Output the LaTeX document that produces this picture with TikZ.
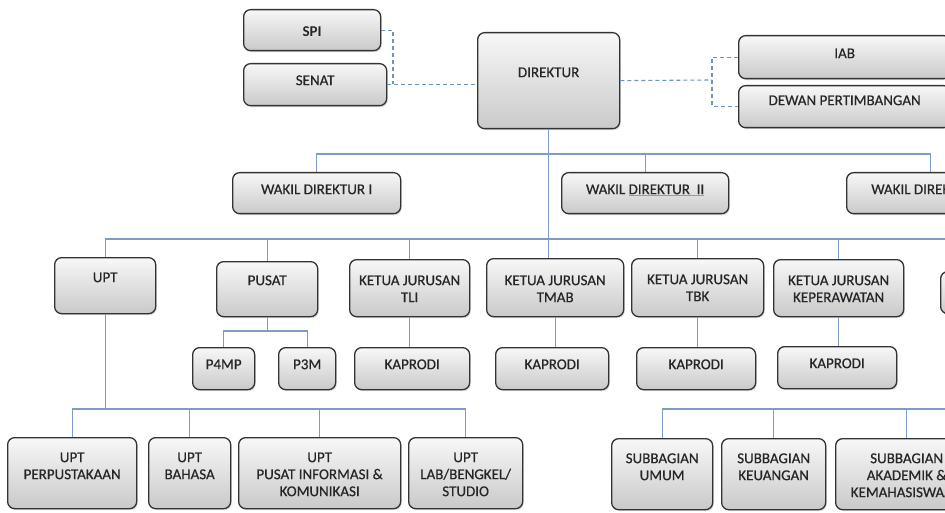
\documentclass[tikz,border=0pt]{standalone}
\usepackage{fontspec}
\setmainfont{Carlito}
\newfontfamily\boxfont{Carlito}[FakeBold=0.5]
\usetikzlibrary{shadows}
\definecolor{linkblue}{HTML}{7C9DC7}
\definecolor{dashblue}{HTML}{6E94BA}
\definecolor{spellgreen}{HTML}{7DB36B}

\begin{document}
\begin{tikzpicture}[x=1pt, y=-1pt,
  box/.style={draw=black!80, line width=1.3pt, rounded corners=7pt,
    top color=gray!6, bottom color=gray!42, anchor=north west,
    inner xsep=2pt, inner ysep=0pt, align=center, text=black!85,
    font=\boxfont\fontsize{15}{17}\selectfont,
    drop shadow={shadow xshift=1.2pt, shadow yshift=-1.5pt, opacity=0.25}},
  link/.style={draw=linkblue, line width=1.1pt},
  tieline/.style={draw=dashblue, line width=1.1pt, dash pattern=on 4pt off 3pt}]
\useasboundingbox (0,0) rectangle (945,513);
\clip (0,0) rectangle (945,513);
% top
\node[box, minimum width=137pt, text height=27pt, text depth=14pt, font=\fontsize{15}{17}\selectfont\bfseries] (spi) at (243,9) {SPI};
\node[box, minimum width=143pt, text height=21.5pt, text depth=20.5pt] (senat) at (243,63) {SENAT};
\node[box, minimum width=142pt, text height=44.5pt, text depth=51.5pt] (direktur) at (477,32) {DIREKTUR};
\node[box, minimum width=212pt, text height=22.5pt, text depth=20.5pt] (iab) at (738,35) {IAB};
\node[box, minimum width=212pt, text height=19.5pt, text depth=22.5pt] (dewan) at (738,85) {DEWAN PERTIMBANGAN};
% wakil
\node[box, minimum width=168pt, text height=21.5pt, text depth=19.5pt] (wd1) at (232,172) {WAKIL DIREKTUR I};
\node[box, minimum width=167pt, text height=21.5pt, text depth=19.5pt] (wd2) at (561,172) {WAKIL \textcolor{spellgreen}{\underline{\textcolor{black!85}{DIREKTUR\ \ II}}}};
\node[box, minimum width=168pt, text height=21.5pt, text depth=19.5pt] (wd3) at (846,172) {WAKIL DIREKTUR III};
% middle row
\node[box, minimum width=101pt, text height=24.5pt, text depth=31.5pt] (upt) at (54,257) {UPT};
\node[box, minimum width=101pt, text height=23.5pt, text depth=31.5pt] (pusat) at (216,261) {PUSAT};
\node[box, minimum width=120pt, text height=42.5pt, text depth=14.5pt] (tli) at (349,259) {KETUA JURUSAN\\TLI};
\node[box, minimum width=137pt, text height=43.5pt, text depth=14.5pt] (tmab) at (486,258) {KETUA JURUSAN\\TMAB};
\node[box, minimum width=132pt, text height=42.5pt, text depth=15.5pt] (tbk) at (631,258) {KETUA JURUSAN\\TBK};
\node[box, minimum width=130pt, text height=42.5pt, text depth=14.5pt] (kep) at (773,259) {KETUA JURUSAN\\KEPERAWATAN};
\node[box, minimum width=110pt, text height=21.5pt, text depth=20.5pt] (kjx) at (940,271) {};
\node[box, minimum width=62pt, text height=21.5pt, text depth=20.5pt] (p4mp) at (192,347) {P4MP};
\node[box, minimum width=57pt, text height=21.5pt, text depth=20.5pt] (p3m) at (278,347) {P3M};
\node[box, minimum width=115pt, text height=21.5pt, text depth=20.5pt] (kap1) at (354,347) {KAPRODI};
\node[box, minimum width=113pt, text height=21.5pt, text depth=20.5pt] (kap2) at (495,347) {KAPRODI};
\node[box, minimum width=119pt, text height=21.5pt, text depth=20.5pt] (kap3) at (636,347) {KAPRODI};
\node[box, minimum width=119pt, text height=21.5pt, text depth=20.5pt] (kap4) at (777,346) {KAPRODI};
% bottom row
\node[box, minimum width=129pt, text height=41.5pt, text depth=29.5pt] (perpus) at (7,437) {UPT\\PERPUSTAKAAN};
\node[box, minimum width=82pt, text height=41.5pt, text depth=29.5pt] (bahasa) at (148,437) {UPT\\BAHASA};
\node[box, minimum width=162pt, text height=58.5pt, text depth=12.5pt] (pusinfo) at (238,437) {UPT\\PUSAT INFORMASI \&\\KOMUNIKASI};
\node[box, minimum width=114pt, text height=58.5pt, text depth=12.5pt] (lab) at (408,437) {UPT\\LAB/BENGKEL/\\STUDIO};
\node[box, minimum width=101pt, text height=41.5pt, text depth=29.5pt] (umum) at (611,438) {SUBBAGIAN\\UMUM};
\node[box, minimum width=104pt, text height=41.5pt, text depth=29.5pt] (keu) at (721,438) {SUBBAGIAN\\KEUANGAN};
\node[box, minimum width=142pt, text height=58.5pt, text depth=12.5pt] (akad) at (835,438) {SUBBAGIAN\\AKADEMIK \&\\KEMAHASISWAAN};
% dashed lines
\coordinate (jl) at (393,84);
\coordinate (jr) at (712,80);
\draw[tieline] (spi.east) -| (jl);
\draw[tieline] (senat.east) -- (senat.east -| direktur.west);
\draw[tieline] (direktur.east) -- (jr);
\draw[tieline] (iab.west) -| (jr) |- (dewan.west);
% solid lines
\coordinate (b1) at (548,154);
\coordinate (b2) at (950,239);
\coordinate (b3) at (106,409);
\coordinate (b4) at (266,331);
\coordinate (b5) at (950,409);
\draw[link] (direktur.south) -- (direktur.south |- tmab.north);
\draw[link] (wd1.north) |- (b1) -| (wd3.north);
\draw[link] (wd2.north) -- (wd2.north |- b1);
\draw[link] (upt.north) |- (b2);
\draw[link] (pusat.north) -- (pusat.north |- b2);
\draw[link] (tli.north) -- (tli.north |- b2);
\draw[link] (tbk.north) -- (tbk.north |- b2);
\draw[link] (kep.north) -- (kep.north |- b2);
\draw[link] (pusat.south) -- (pusat.south |- b4);
\draw[link] (p4mp.north) |- (b4) -| (p3m.north);
\draw[link] (tli.south) -- (tli.south |- kap1.north);
\draw[link] (tmab.south) -- (tmab.south |- kap2.north);
\draw[link] (tbk.south) -- (tbk.south |- kap3.north);
\draw[link] (kep.south) -- (kep.south |- kap4.north);
\draw[link] (upt.south) -- (upt.south |- b3);
\draw[link] (perpus.north) |- (b3) -| (lab.north);
\draw[link] (bahasa.north) -- (bahasa.north |- b3);
\draw[link] (pusinfo.north) -- (pusinfo.north |- b3);
\draw[link] (umum.north) |- (b5);
\draw[link] (keu.north) -- (keu.north |- b5);
\draw[link] (akad.north) -- (akad.north |- b5);
\end{tikzpicture}
\end{document}
